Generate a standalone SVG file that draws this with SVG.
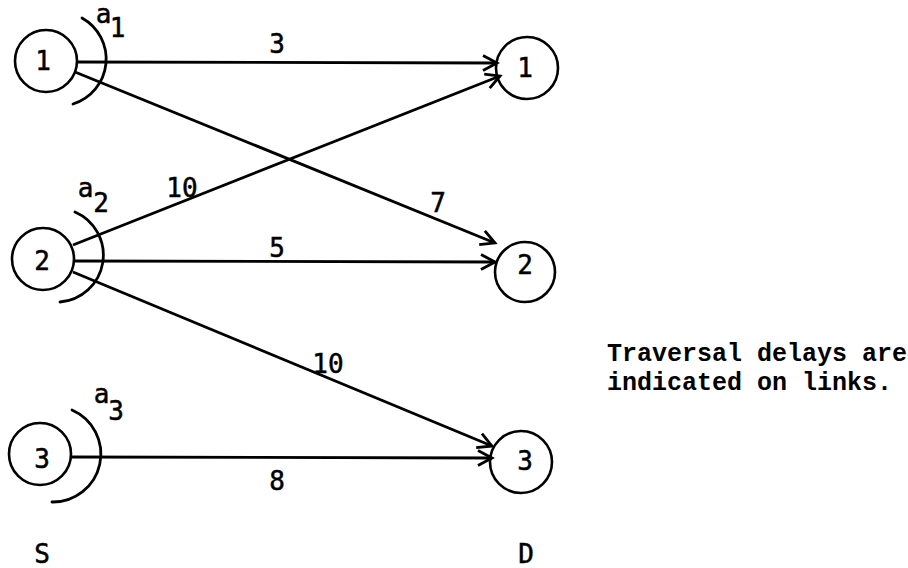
<svg xmlns="http://www.w3.org/2000/svg" width="908" height="568" viewBox="0 0 908 568">
<defs>
<style>
.node circle{fill:none;stroke:#000;stroke-width:2.6}
.arc{fill:none;stroke:#000;stroke-width:2.8;stroke-linecap:round}
.edge{stroke:#000;stroke-width:2.8;fill:none}
text{font-family:"DejaVu Sans Mono","Liberation Mono",monospace;font-size:26px;fill:#000;stroke:#000;stroke-width:0.5;text-anchor:middle}
.note{font-family:"Liberation Mono","Courier New",monospace;font-weight:bold;font-size:25px;stroke:none;text-anchor:start}
</style>
<marker id="arr" markerUnits="userSpaceOnUse" markerWidth="20" markerHeight="20" refX="0" refY="0" viewBox="-16 -10 18 20" orient="auto" overflow="visible">
<path d="M-14,-7.5 L0,0 L-14,7.5" fill="none" stroke="#000" stroke-width="2.8" stroke-linejoin="miter"/>
</marker>
</defs>
<rect width="908" height="568" fill="#fff"/>
<g id="connectors">
<line class="edge" x1="77" y1="62" x2="497" y2="63" marker-end="url(#arr)"/>
<line class="edge" x1="75" y1="72" x2="495" y2="243" marker-end="url(#arr)"/>
<line class="edge" x1="73" y1="245" x2="500" y2="76" marker-end="url(#arr)"/>
<line class="edge" x1="75" y1="261" x2="495" y2="262" marker-end="url(#arr)"/>
<line class="edge" x1="73" y1="272" x2="492" y2="446" marker-end="url(#arr)"/>
<line class="edge" x1="71" y1="457" x2="492" y2="458" marker-end="url(#arr)"/>
<text x="277" y="53">3</text>
<text x="438" y="212">7</text>
<text x="182" y="197">10</text>
<text x="277" y="257">5</text>
<text x="328" y="373">10</text>
<text x="277" y="490">8</text>
</g>
<g id="s1" class="node">
<circle cx="46" cy="61" r="31"/>
<text x="43" y="70">1</text>
<path class="arc" d="M82,18 A47,47 0 0 1 73,104"/>
<text x="103.5" y="23">a</text>
<text x="117.5" y="37">1</text>
</g>
<g id="s2" class="node">
<circle cx="43" cy="259" r="31"/>
<text x="42" y="270">2</text>
<path class="arc" d="M75,212 A47,47 0 0 1 60,302"/>
<text x="85.5" y="197">a</text>
<text x="101" y="212">2</text>
</g>
<g id="s3" class="node">
<circle cx="40" cy="454" r="31"/>
<text x="42" y="468">3</text>
<path class="arc" d="M72,410 A48,48 0 0 1 52,502"/>
<text x="101.5" y="403">a</text>
<text x="116" y="420">3</text>
</g>
<g id="d1" class="node">
<circle cx="527" cy="68" r="31"/>
<text x="525" y="77">1</text>
</g>
<g id="d2" class="node">
<circle cx="525" cy="272" r="30"/>
<text x="525" y="274">2</text>
</g>
<g id="d3" class="node">
<circle cx="521" cy="462" r="31"/>
<text x="525" y="470">3</text>
</g>
<g id="labels">
<text x="42" y="563">S</text>
<text x="526" y="563">D</text>
<text class="note" x="607" y="361">Traversal delays are</text>
<text class="note" x="607" y="390">indicated on links.</text>
</g>
</svg>
